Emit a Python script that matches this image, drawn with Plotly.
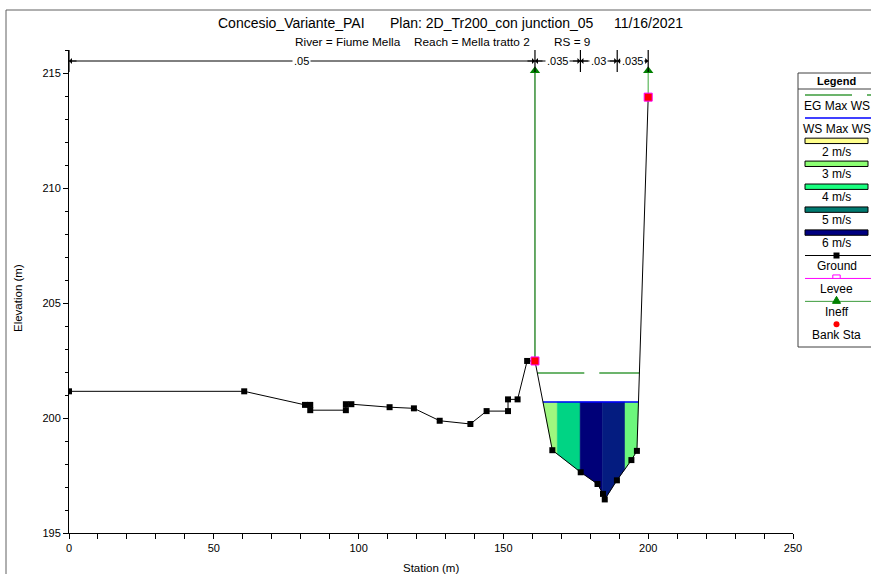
import plotly.graph_objects as go
import numpy as np

# ---------------- data ----------------
ground_x = [0.0, 60.5, 81.5, 83.3, 83.3, 95.6, 95.6, 97.5, 110.7, 119.1, 128.0, 138.6,
            144.2, 151.6, 151.6, 154.9, 158.2, 160.9, 166.9, 176.7, 182.5, 184.4, 185.0,
            189.2, 194.2, 196.1, 200.0]
ground_y = [201.16, 201.16, 200.57, 200.57, 200.34, 200.34, 200.60, 200.60, 200.47, 200.42,
            199.88, 199.74, 200.30, 200.30, 200.81, 200.81, 202.48, 202.48, 198.60, 197.64,
            197.13, 196.70, 196.46, 197.29, 198.17, 198.57, 213.95]
ws_elev = 200.70
eg_elev = 201.96
bank_sta = [160.9, 200.0]
ineff_sta = [160.9, 200.0]
ineff_elev = [215.1, 215.1]
vel_breaks = [168.6, 176.5, 184.2, 192.0]
vel_colors = ["#9ef77f", "#00d484", "#000078", "#041c80", "#6cf77c"]
n_sta = [0.0, 160.9, 176.6, 189.3, 200.0]
n_vals = [".05", ".035", ".03", ".035"]
x_ticks = [0, 50, 100, 150, 200, 250]
y_ticks = [195, 200, 205, 210, 215]
legend_labels = ["EG Max WS", "WS Max WS", "2 m/s", "3 m/s", "4 m/s", "5 m/s", "6 m/s",
                 "Ground", "Levee", "Ineff", "Bank Sta"]
legend_swatches = ["#ffff8c", "#8cff73", "#19ff7f", "#007a70", "#000080"]
title_parts = ["Concesio_Variante_PAI", "Plan: 2D_Tr200_con junction_05", "11/16/2021"]
subtitle_parts = ["River = Fiume Mella", "Reach = Mella tratto 2", "RS = 9"]

# ---------------- layout helpers ----------------
W, H = 871, 574
PL, PR, PT, PB = 69, 793, 50, 533
FONT = "Liberation Sans, Arial, sans-serif"


def fx(p):
    return p / W


def fy(p):
    return 1 - p / H


gx = np.array(ground_x)
gy = np.array(ground_y)
i0 = ground_x.index(bank_sta[0])
cx, cy = gx[i0:], gy[i0:]


def crossings(level):
    pts = []
    for k in range(len(cx) - 1):
        y0, y1 = cy[k], cy[k + 1]
        if (y0 - level) * (y1 - level) < 0:
            t = (level - y0) / (y1 - y0)
            pts.append(cx[k] + t * (cx[k + 1] - cx[k]))
    return pts[0], pts[-1]


def gint(x):
    return float(np.interp(x, cx, cy))


fig = go.Figure()

# velocity bands
wl, wr = crossings(ws_elev)
edges = [wl] + vel_breaks + [wr]
for a, b, c in zip(edges[:-1], edges[1:], vel_colors):
    inner = [(x, y) for x, y in zip(cx, cy) if a < x < b]
    xs = [a, b, b] + [p[0] for p in reversed(inner)] + [a, a]
    ys = [ws_elev, ws_elev, gint(b)] + [p[1] for p in reversed(inner)] + [gint(a), ws_elev]
    fig.add_trace(go.Scatter(x=xs, y=ys, mode="lines", fill="toself", fillcolor=c,
                             line=dict(color=c, width=0.5), hoverinfo="skip"))

# WS line
fig.add_trace(go.Scatter(x=[wl, wr], y=[ws_elev, ws_elev], mode="lines",
                         line=dict(color="#0000ff", width=1.5)))
# EG line
el, er = crossings(eg_elev)
fig.add_trace(go.Scatter(x=[el, er], y=[eg_elev, eg_elev], mode="lines",
                         line=dict(color="#3c9c3c", width=1.5, dash="47px,15px")))
# Ground
fig.add_trace(go.Scatter(x=ground_x, y=ground_y, mode="lines+markers",
                         line=dict(color="black", width=1),
                         marker=dict(symbol="square", size=6, color="black")))
# Ineffective flow
ineff_colors = ["#007000", "#5cb85c"]
for s, e, c in zip(ineff_sta, ineff_elev, ineff_colors):
    g = ground_y[ground_x.index(s)]
    fig.add_trace(go.Scatter(x=[s, s], y=[g, e], mode="lines",
                             line=dict(color=c, width=1.2)))
fig.add_trace(go.Scatter(x=ineff_sta, y=ineff_elev, mode="markers",
                         marker=dict(symbol="triangle-up", size=9, color="#008000")))
# Bank stations
fig.add_trace(go.Scatter(x=bank_sta, y=[ground_y[ground_x.index(s)] for s in bank_sta],
                         mode="markers",
                         marker=dict(symbol="square", size=8, color="#ff0000",
                                     line=dict(color="#ff00ff", width=1))))

shapes = []
annotations = []


def txt(x, y, text, size=11, xref="paper", xanchor="center", angle=0):
    return dict(x=x, y=y, xref=xref, yref="paper", text=text, showarrow=False,
                xanchor=xanchor, yanchor="middle", textangle=angle,
                font=dict(size=size, color="black", family=FONT))


# Manning's n bar along the top
ny = fy(61)
for s in n_sta:
    shapes.append(dict(type="line", xref="x", yref="paper", x0=s, x1=s,
                       y0=fy(50), y1=fy(72), line=dict(color="black", width=1.2)))
for a, b, lab in zip(n_sta[:-1], n_sta[1:], n_vals):
    shapes.append(dict(type="line", xref="x", yref="paper", x0=a, x1=b, y0=ny, y1=ny,
                       line=dict(color="black", width=1)))
    for end, off in ((a, 9), (b, -9)):
        annotations.append(dict(x=end, y=ny, xref="x", yref="paper", text="",
                                showarrow=True, ax=off, ay=0, arrowhead=1, arrowsize=1,
                                arrowwidth=1, arrowcolor="black"))
    lab_ann = txt((a + b) / 2, ny, lab, 11, xref="x")
    lab_ann.update(bgcolor="white", borderpad=1)
    annotations.append(lab_ann)

# outer frame
shapes.append(dict(type="line", xref="paper", yref="paper", x0=fx(6), x1=1.0,
                   y0=fy(10), y1=fy(10), line=dict(color="#606060", width=1)))
shapes.append(dict(type="line", xref="paper", yref="paper", x0=fx(6), x1=fx(6),
                   y0=fy(10), y1=0, line=dict(color="#606060", width=1)))

# titles
for t, px in zip(title_parts, [216, 388, 612]):
    annotations.append(txt(fx(px), fy(23), t, 14, xanchor="left"))
for t, px in zip(subtitle_parts, [293, 412, 552]):
    annotations.append(txt(fx(px), fy(42), t, 11.8, xanchor="left"))
# axis titles
annotations.append(txt(fx(18), fy(298), "Elevation (m)", 11.5, angle=-90))
annotations.append(txt(fx(431), fy(568), "Station (m)", 11.5))

# ---------------- custom legend ----------------
LX0, LTOP, LBOT = 798, 73, 347
LC = 836.5
for (x0, y0, x1, y1) in [(LX0, LTOP, W + 2, LTOP), (LX0, LTOP, LX0, LBOT),
                         (LX0, LBOT, W + 2, LBOT), (LX0, 89, W + 2, 89)]:
    shapes.append(dict(type="line", xref="paper", yref="paper", x0=fx(x0), x1=fx(x1),
                       y0=fy(y0), y1=fy(y1), line=dict(color="#404040", width=1)))
annotations.append(txt(fx(LC), fy(80.5), "<b>Legend</b>", 11))

step = 22.93
for i, lab in enumerate(legend_labels):
    yc = 95 + i * step
    annotations.append(txt(fx(LC), fy(yc + 10.7), lab, 12))
    if lab == "EG Max WS":
        shapes.append(dict(type="line", xref="paper", yref="paper", x0=fx(805), x1=fx(W),
                           y0=fy(yc), y1=fy(yc),
                           line=dict(color="#3c9c3c", width=1.5, dash="47px,15px")))
    elif lab == "WS Max WS":
        shapes.append(dict(type="line", xref="paper", yref="paper", x0=fx(805), x1=fx(W),
                           y0=fy(yc), y1=fy(yc), line=dict(color="#0000ff", width=1.5)))
    elif lab.endswith("m/s"):
        c = legend_swatches[i - 2]
        shapes.append(dict(type="rect", xref="paper", yref="paper", x0=fx(805), x1=fx(868),
                           y0=fy(yc - 2.7), y1=fy(yc + 2.7), fillcolor=c,
                           line=dict(color="black", width=1)))
    elif lab == "Ground":
        shapes.append(dict(type="line", xref="paper", yref="paper", x0=fx(805), x1=fx(W),
                           y0=fy(yc), y1=fy(yc), line=dict(color="black", width=1)))
        shapes.append(dict(type="rect", xref="paper", yref="paper", x0=fx(LC - 3),
                           x1=fx(LC + 3), y0=fy(yc - 3), y1=fy(yc + 3),
                           fillcolor="black", line=dict(width=0)))
    elif lab == "Levee":
        shapes.append(dict(type="line", xref="paper", yref="paper", x0=fx(805), x1=fx(W),
                           y0=fy(yc), y1=fy(yc), line=dict(color="#ff00ff", width=1)))
        shapes.append(dict(type="path", xref="paper", yref="paper",
                           path=f"M {fx(LC-3.7)} {fy(yc)} L {fx(LC-3.7)} {fy(yc-3.5)} "
                                f"L {fx(LC+3.7)} {fy(yc-3.5)} L {fx(LC+3.7)} {fy(yc)}",
                           line=dict(color="#ff00ff", width=1)))
    elif lab == "Ineff":
        shapes.append(dict(type="line", xref="paper", yref="paper", x0=fx(805), x1=fx(W),
                           y0=fy(yc), y1=fy(yc), line=dict(color="#3c9c3c", width=1)))
        shapes.append(dict(type="path", xref="paper", yref="paper",
                           path=f"M {fx(LC-4)} {fy(yc+2)} L {fx(LC)} {fy(yc-5)} "
                                f"L {fx(LC+4)} {fy(yc+2)} Z",
                           fillcolor="#008000", line=dict(color="#008000", width=1)))
    elif lab == "Bank Sta":
        shapes.append(dict(type="circle", xref="paper", yref="paper", x0=fx(LC - 3),
                           x1=fx(LC + 3), y0=fy(yc - 3), y1=fy(yc + 3),
                           fillcolor="#ff0000", line=dict(width=0)))

fig.update_layout(
    width=W, height=H,
    margin=dict(l=0, r=0, t=0, b=0),
    paper_bgcolor="white", plot_bgcolor="white",
    showlegend=False,
    font=dict(family=FONT, size=11, color="black"),
    shapes=shapes, annotations=annotations,
    xaxis=dict(domain=[PL / W, PR / W], range=[0, 250], tickvals=x_ticks,
               ticks="outside", ticklen=5, tickcolor="black", showline=True,
               linecolor="black", linewidth=1, showgrid=False, zeroline=False,
               minor=dict(dtick=10, ticks="outside", ticklen=5, tickcolor="black"),
               tickfont=dict(size=11, family=FONT), automargin=False),
    yaxis=dict(domain=[1 - PB / H, 1 - PT / H], range=[195, 216], tickvals=y_ticks,
               ticks="outside", ticklen=5, tickcolor="black", showline=True,
               linecolor="black", linewidth=1, showgrid=False, zeroline=False,
               minor=dict(dtick=1, ticks="outside", ticklen=3, tickcolor="black"),
               tickfont=dict(size=11, family=FONT), automargin=False),
)

fig.write_html("out.html",
               config={"displayModeBar": False},
               post_script="document.body.style.margin='0px';"
                           "document.body.style.overflow='hidden';")
